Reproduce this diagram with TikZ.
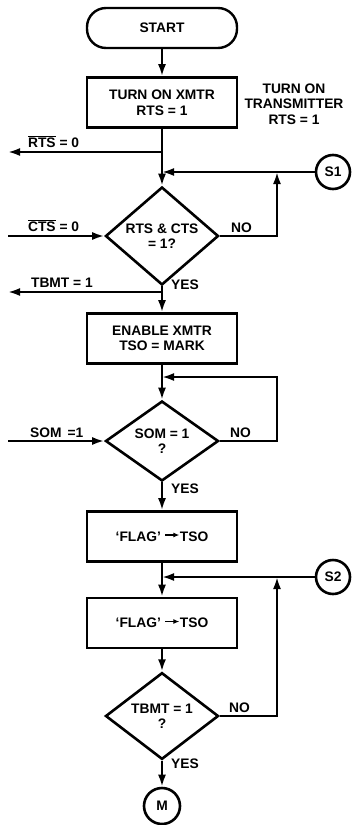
\documentclass[tikz,border=0pt]{standalone}
\usepackage{fontspec}
\setmainfont{Liberation Sans}
\usetikzlibrary{shapes.geometric,arrows.meta}
\newcommand{\flagarrow}{\raisebox{0.27em}{\tikz\draw[line width=1.2pt,-{Latex[length=6pt,width=5pt]}] (0,0)--(14pt,0);}}
\begin{document}
\begin{tikzpicture}[x=1pt,y=1pt,line width=2.2pt,
  font=\fontsize{13.8}{15.5}\selectfont\bfseries,
  >={Latex[length=12pt,width=8pt]},
  term/.style={draw,rectangle,rounded corners=19pt,minimum width=150pt,minimum height=40pt,inner sep=0pt,line width=2.4pt},
  proc/.style={draw,rectangle,minimum width=150pt,minimum height=50pt,inner sep=0pt,align=center,line width=2.6pt},
  dec/.style={draw,diamond,minimum width=113pt,minimum height=75pt,inner sep=0pt,align=center,line width=2.6pt},
  conn/.style={draw,circle,minimum size=34pt,inner sep=0pt,line width=2.6pt},
  lbl/.style={anchor=base west,inner sep=0pt},
  note/.style={align=center,inner sep=0pt}]
\useasboundingbox (0,0) rectangle (352,-825);

% main column
\node[term] (start) at (162,-28) {START};
\node[proc] (b1) at (162,-102.5) {TURN ON XMTR\\RTS = 1};
\node[note] (side) at (294,-104) {TURN ON\\TRANSMITTER\\RTS = 1};
\node[dec] (d1) at (162,-236) {RTS \& CTS\\= 1?};
\node[proc] (b2) at (162,-338.5) {ENABLE XMTR\\TSO = MARK};
\node[dec] (d2) at (162,-441) {SOM = 1\\?};
\node[proc] (b3) at (162,-536.5) {‘FLAG’ \flagarrow TSO};
\node[proc] (b4) at (162,-623) {‘FLAG’ \flagarrow TSO};
\node[dec] (d3) at (162,-716) {TBMT = 1\\?};
\node[conn,minimum size=36pt] (m) at (162,-806) {M};
\node[conn] (s1) at (333,-172) {S1};
\node[conn] (s2) at (333,-577) {S2};

% coordinates
\coordinate (j1) at (162,-152);
\coordinate (o1) at (8,-152);
\coordinate (j2) at (162,-172);
\coordinate (k1) at (277,-172);
\coordinate (i1) at (8,-236);
\coordinate (j3) at (162,-292);
\coordinate (o2) at (8,-292);
\coordinate (j4) at (162,-377);
\coordinate (k2) at (277,-377);
\coordinate (i2) at (8,-441);
\coordinate (j5) at (162,-577);
\coordinate (k3) at (277,-577);

% connectors
\draw[->] (start) -- (b1);
\draw[->] (b1) -- (d1);
\draw[->] (j1) -- (o1);
\draw[->] (s1) -- (j2);
\draw[->] (d1.east) -| (k1);
\draw[->] (i1) -- (d1.west);
\draw[->] (d1) -- (b2);
\draw[->] (j3) -- (o2);
\draw[->] (b2) -- (d2);
\draw[->] (d2.east) -| (k2) -- (j4);
\draw[->] (i2) -- (d2.west);
\draw[->] (d2) -- (b3);
\draw[->] (b3) -- (b4);
\draw[->] (s2) -- (j5);
\draw[->] (d3.east) -| (k3);
\draw[->] (b4) -- (d3);
\draw[->] (d3) -- (m);

% labels
\node[lbl] (l1) at (27,-147) {$\overline{\mbox{RTS}}$ = 0};
\node[lbl] (l2) at (27,-231) {$\overline{\mbox{CTS}}$ = 0};
\node[lbl] (l3) at (230,-232) {NO};
\node[lbl] (l4) at (170,-289) {YES};
\node[lbl] (l5) at (30,-287) {TBMT = 1};
\node[lbl] (l6) at (29,-437) {SOM\, =1};
\node[lbl] (l7) at (229,-437) {NO};
\node[lbl] (l8) at (170,-493) {YES};
\node[lbl] (l9) at (228,-712) {NO};
\node[lbl] (l10) at (170,-768) {YES};
\end{tikzpicture}
\end{document}
